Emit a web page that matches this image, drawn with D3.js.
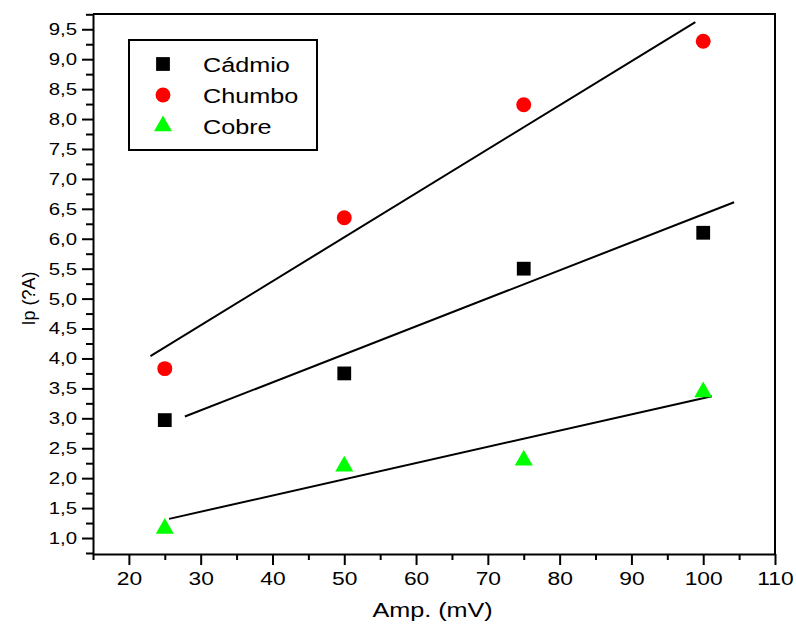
<!DOCTYPE html>
<html>
<head>
<meta charset="utf-8">
<script src="https://cdn.jsdelivr.net/npm/d3@7"></script>
<style>
    body { margin: 0; background: #fff; }
    text { font-family: "Liberation Sans", Arial, sans-serif; fill: #000; }
</style>
</head>
<body>
<div id="chart"></div>
<script>
    // data
    let amplitudes = [25, 50, 75, 100];
    let seriesNames = ["Cádmio", "Chumbo", "Cobre"];
    let cadmio = [2.97, 3.75, 5.5, 6.1];
    let chumbo = [3.83, 6.35, 8.24, 9.3];
    let cobre = [1.16, 2.2, 2.3, 3.44];
    // fitted lines as drawn: [x0, y0, x1, y1]
    let cadmioFit = [27.8, 3.03, 104.3, 6.61];
    let chumboFit = [23.0, 4.04, 98.9, 9.62];
    let cobreFit = [25.6, 1.32, 101.2, 3.37];
    let xTicks = [20, 30, 40, 50, 60, 70, 80, 90, 100, 110];
    let yTicks = [1.0, 1.5, 2.0, 2.5, 3.0, 3.5, 4.0, 4.5, 5.0, 5.5, 6.0, 6.5, 7.0, 7.5, 8.0, 8.5, 9.0, 9.5];

    let width = 796, height = 631;
    let margin = { top: 14, right: 21, bottom: 77, left: 93 };
    let w = width - margin.left - margin.right;
    let h = height - margin.top - margin.bottom;
    let stretch = 1.2; // the original text is drawn wide

    let svg = d3.select("#chart")
        .append("svg")
        .attr("width", width)
        .attr("height", height);

    let g = svg.append("g")
        .attr("transform", `translate(${margin.left}, ${margin.top})`);

    let x = d3.scaleLinear().domain([15, 110]).range([0, w]);
    let y = d3.scaleLinear().domain([0.733, 9.755]).range([h, 0]);

    let fmt = d => d3.format(".1f")(d).replace(".", ",");

    // minor ticks
    let xMinor = d3.range(15, 110, 10);
    let yMinor = d3.range(0.75, 9.76, 0.5);

    g.append("g")
        .attr("transform", `translate(0, ${h})`)
        .call(d3.axisBottom(x).tickValues(xMinor).tickSize(6).tickFormat(""))
        .call(a => a.select(".domain").remove())
        .selectAll("line").attr("stroke-width", 2);

    g.append("g")
        .call(d3.axisLeft(y).tickValues(yMinor).tickSize(7).tickFormat(""))
        .call(a => a.select(".domain").remove())
        .selectAll("line").attr("stroke-width", 2);

    // major axes
    let xAxis = g.append("g")
        .attr("transform", `translate(0, ${h})`)
        .call(d3.axisBottom(x).tickValues(xTicks).tickSize(11).tickPadding(7).tickSizeOuter(0));
    xAxis.selectAll("text")
        .style("font-size", "19px")
        .attr("transform", `scale(${stretch}, 1)`);
    xAxis.selectAll("line").attr("stroke-width", 2);
    xAxis.select(".domain").attr("stroke-width", 2);

    let yAxis = g.append("g")
        .call(d3.axisLeft(y).tickValues(yTicks).tickSize(11).tickFormat(fmt).tickSizeOuter(0));
    yAxis.selectAll("text")
        .style("font-size", "17px")
        .attr("x", -16 / stretch)
        .attr("transform", `scale(${stretch}, 1)`);
    yAxis.selectAll("line").attr("stroke-width", 2);
    yAxis.select(".domain").attr("stroke-width", 2);

    // top and right frame
    g.append("path")
        .attr("d", `M0,0H${w}V${h}`)
        .attr("fill", "none")
        .attr("stroke", "#000")
        .attr("stroke-width", 2);

    // axis titles
    svg.append("text")
        .attr("transform", `translate(${margin.left + x(62.3)}, 617) scale(${stretch}, 1)`)
        .attr("text-anchor", "middle")
        .style("font-size", "21px")
        .text("Amp. (mV)");

    svg.append("text")
        .attr("transform", `translate(35, ${margin.top + y(5.0)}) rotate(-90)`)
        .attr("text-anchor", "middle")
        .style("font-size", "18px")
        .text("Ip (?A)");

    // fit lines
    let fits = [cadmioFit, chumboFit, cobreFit];
    g.selectAll(".fit")
        .data(fits)
        .join("line")
        .attr("class", "fit")
        .attr("x1", d => x(d[0]))
        .attr("y1", d => y(d[1]))
        .attr("x2", d => x(d[2]))
        .attr("y2", d => y(d[3]))
        .attr("stroke", "#000")
        .attr("stroke-width", 2);

    // markers
    let styles = [
        { symbol: d3.symbolSquare, size: 190, color: "#000" },
        { symbol: d3.symbolCircle, size: 175, color: "#ff0000" },
        { symbol: d3.symbolTriangle, size: 140, color: "#00ff00" }
    ];
    let series = [cadmio, chumbo, cobre];

    series.forEach(function (vals, i) {
        g.selectAll(".pt" + i)
            .data(vals)
            .join("path")
            .attr("class", "pt" + i)
            .attr("transform", (d, j) => `translate(${x(amplitudes[j])}, ${y(d)})`)
            .attr("d", d3.symbol().type(styles[i].symbol).size(styles[i].size))
            .attr("fill", styles[i].color);
    });

    // legend
    let legend = svg.append("g").attr("transform", "translate(129, 40)");
    legend.append("rect")
        .attr("width", 188)
        .attr("height", 110)
        .attr("fill", "#fff")
        .attr("stroke", "#000")
        .attr("stroke-width", 2);

    let rows = legend.selectAll(".row")
        .data(seriesNames)
        .join("g")
        .attr("class", "row")
        .attr("transform", (d, i) => `translate(0, ${24 + i * 31})`);

    rows.append("path")
        .attr("transform", "translate(34, 0)")
        .attr("d", (d, i) => d3.symbol().type(styles[i].symbol).size(styles[i].size)())
        .attr("fill", (d, i) => styles[i].color);

    rows.append("text")
        .attr("transform", `translate(74, 0) scale(${stretch}, 1)`)
        .attr("dy", "0.36em")
        .style("font-size", "21px")
        .text(d => d);
</script>
</body>
</html>
